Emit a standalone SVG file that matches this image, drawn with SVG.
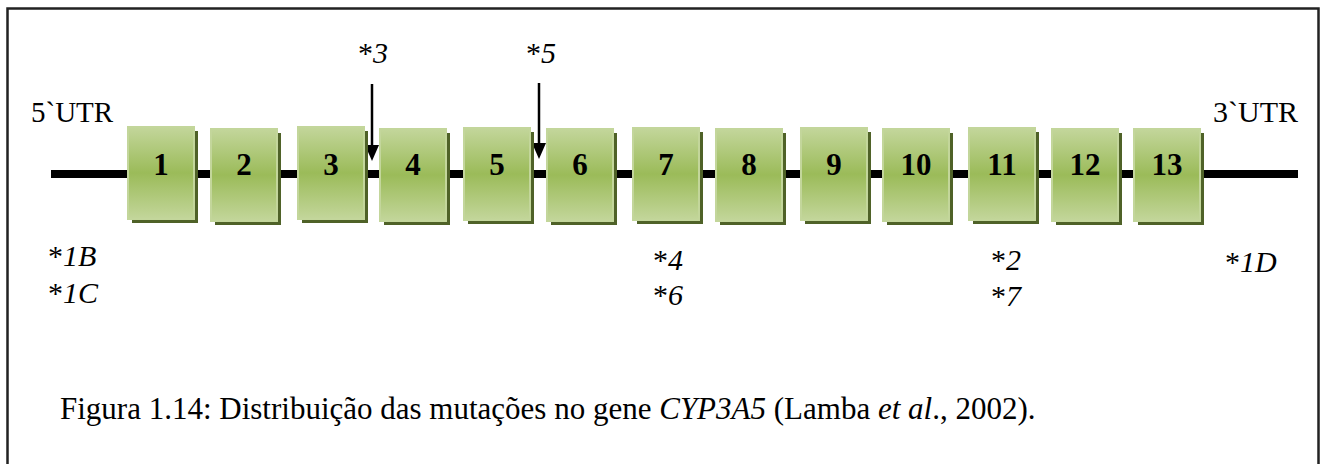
<svg xmlns="http://www.w3.org/2000/svg" width="1325" height="464" viewBox="0 0 1325 464">
<style>
.t{font-family:"Liberation Serif","Times New Roman",serif;font-size:30px;fill:#000}
.i{font-style:italic}
.n{font-family:"Liberation Serif","Times New Roman",serif;font-size:31px;font-weight:bold;fill:#000;text-anchor:middle}
.box{fill:url(#g);stroke:#c3d69b;stroke-width:2}
.sh{fill:#4f6228}
.cap{font-family:"Liberation Serif","Times New Roman",serif;font-size:31px;fill:#000}
</style>
<defs>
<linearGradient id="g" x1="0" y1="0" x2="0" y2="1">
<stop offset="0" stop-color="#c3d69b"/>
<stop offset="0.5" stop-color="#9bbb59"/>
<stop offset="1" stop-color="#c3d69b"/>
</linearGradient>
</defs>
<rect x="0" y="0" width="1325" height="464" fill="#fff"/>
<rect x="7.5" y="8.5" width="1311" height="470" fill="none" stroke="#222" stroke-width="2.5"/>
<g id="connectors">
<line x1="51" y1="174" x2="1298" y2="174" stroke="#000" stroke-width="8"/>
<line x1="372" y1="84" x2="372" y2="146" stroke="#000" stroke-width="2.5"/>
<path d="M365,145 L379,145 L372,161 Z" fill="#000"/>
<line x1="539" y1="83" x2="539" y2="144" stroke="#000" stroke-width="2.5"/>
<path d="M532,143 L546,143 L539,159 Z" fill="#000"/>
</g>
<g id="exon1"><rect class="sh" x="132" y="131" width="66" height="92"/><rect class="box" x="128" y="127" width="66" height="92"/><text class="n" x="161" y="175">1</text></g>
<g id="exon2"><rect class="sh" x="215" y="133" width="66" height="92"/><rect class="box" x="211" y="129" width="66" height="92"/><text class="n" x="244" y="175">2</text></g>
<g id="exon3"><rect class="sh" x="302" y="131" width="66" height="92"/><rect class="box" x="298" y="127" width="66" height="92"/><text class="n" x="331" y="175">3</text></g>
<g id="exon4"><rect class="sh" x="384" y="133" width="66" height="92"/><rect class="box" x="380" y="129" width="66" height="92"/><text class="n" x="413" y="175">4</text></g>
<g id="exon5"><rect class="sh" x="468" y="132" width="66" height="92"/><rect class="box" x="464" y="128" width="66" height="92"/><text class="n" x="497" y="175">5</text></g>
<g id="exon6"><rect class="sh" x="551" y="133" width="66" height="92"/><rect class="box" x="547" y="129" width="66" height="92"/><text class="n" x="580" y="175">6</text></g>
<g id="exon7"><rect class="sh" x="637" y="132" width="66" height="92"/><rect class="box" x="633" y="128" width="66" height="92"/><text class="n" x="666" y="175">7</text></g>
<g id="exon8"><rect class="sh" x="720" y="133" width="66" height="92"/><rect class="box" x="716" y="129" width="66" height="92"/><text class="n" x="749" y="175">8</text></g>
<g id="exon9"><rect class="sh" x="805" y="132" width="66" height="92"/><rect class="box" x="801" y="128" width="66" height="92"/><text class="n" x="834" y="175">9</text></g>
<g id="exon10"><rect class="sh" x="887" y="133" width="66" height="92"/><rect class="box" x="883" y="129" width="66" height="92"/><text class="n" x="916" y="175">10</text></g>
<g id="exon11"><rect class="sh" x="973" y="132" width="66" height="92"/><rect class="box" x="969" y="128" width="66" height="92"/><text class="n" x="1002" y="175">11</text></g>
<g id="exon12"><rect class="sh" x="1056" y="133" width="66" height="92"/><rect class="box" x="1052" y="129" width="66" height="92"/><text class="n" x="1085" y="175">12</text></g>
<g id="exon13"><rect class="sh" x="1138" y="133" width="66" height="92"/><rect class="box" x="1134" y="129" width="66" height="92"/><text class="n" x="1167" y="175">13</text></g>
<g id="label-3"><text class="t" x="358" y="63">*<tspan class="i">3</tspan></text></g>
<g id="label-5"><text class="t" x="526" y="63">*<tspan class="i">5</tspan></text></g>
<g id="utr5"><text class="t" x="31" y="122" style="font-size:29px">5`UTR</text></g>
<g id="utr3"><text class="t" x="1213" y="122">3`UTR</text></g>
<g id="label-1B"><text class="t" x="48" y="266">*<tspan class="i">1B</tspan></text></g>
<g id="label-1C"><text class="t" x="48" y="303">*<tspan class="i">1C</tspan></text></g>
<g id="label-4"><text class="t" x="653" y="270">*<tspan class="i">4</tspan></text></g>
<g id="label-6"><text class="t" x="653" y="305">*<tspan class="i">6</tspan></text></g>
<g id="label-2"><text class="t" x="991" y="270">*<tspan class="i">2</tspan></text></g>
<g id="label-7"><text class="t" x="991" y="306">*<tspan class="i">7</tspan></text></g>
<g id="label-1D"><text class="t" x="1225" y="272">*<tspan class="i">1D</tspan></text></g>
<g id="caption">
<text class="cap" x="60" y="419">Figura 1.14: Distribuição das mutações no gene <tspan class="i">CYP3A5</tspan> (Lamba <tspan class="i">et al</tspan>., 2002).</text>
</g>
</svg>
